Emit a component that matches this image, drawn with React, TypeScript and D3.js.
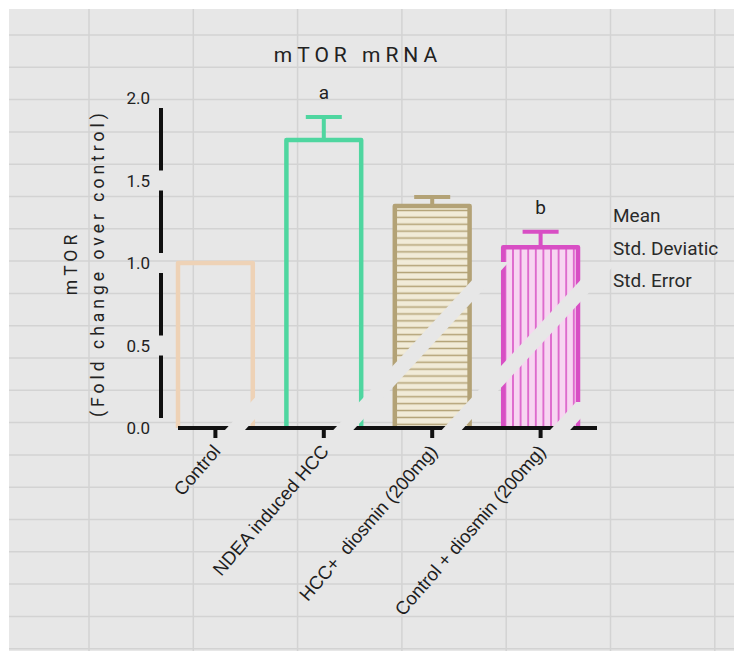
import React, { useEffect, useRef } from 'react';
import * as d3 from 'd3';

// chart data
const categories = ['Control', 'NDEA induced HCC', 'HCC+  diosmin (200mg)', 'Control + diosmin (200mg)'];
const meanValues = [1.0, 1.745, 1.345, 1.095];
const errorValues = [0, 0.14, 0.055, 0.095];
const sigLetters = ['', 'a', '', 'b'];
const yTicks = [0, 0.5, 1.0, 1.5, 2.0];
const legendLabels = ['Mean', 'Std. Deviatic', 'Std. Error'];

const barColors = ['#eed2b6', '#4fd6a0', '#b3a276', '#d84ec4'];
const barFills = ['none', 'none', 'url(#hatchH)', 'url(#hatchV)'];

const App = () => {
  const svgRef = useRef(null);

  useEffect(() => {
    const width = 734;
    const height = 651;
    const bg = '#e7e7e7';

    const svg = d3.select(svgRef.current);
    svg.selectAll('*').remove();

    // photo-like backdrop: white border and a gray grid
    svg.append('rect').attr('width', width).attr('height', height).attr('fill', '#fff');
    svg.append('rect')
      .attr('x', 9).attr('y', 9)
      .attr('width', width - 9).attr('height', height - 9)
      .attr('fill', bg);

    const grid = svg.append('g').attr('stroke', '#d3d3d3').attr('stroke-width', 1.5);
    d3.range(89, width, 104.3).forEach((gx) => {
      grid.append('line').attr('x1', gx).attr('x2', gx).attr('y1', 9).attr('y2', height);
    });
    d3.range(35, height, 32.3).forEach((gy) => {
      grid.append('line').attr('x1', 9).attr('x2', width).attr('y1', gy).attr('y2', gy);
    });

    // patterns for the hatched bars
    const defs = svg.append('defs');
    const pH = defs.append('pattern')
      .attr('id', 'hatchH')
      .attr('patternUnits', 'userSpaceOnUse')
      .attr('width', 10).attr('height', 6.9);
    pH.append('rect').attr('width', 10).attr('height', 6.9).attr('fill', '#f1ebd8');
    pH.append('line')
      .attr('x1', 0).attr('x2', 10).attr('y1', 3.45).attr('y2', 3.45)
      .attr('stroke', '#b3a276').attr('stroke-width', 1.5);

    const pV = defs.append('pattern')
      .attr('id', 'hatchV')
      .attr('patternUnits', 'userSpaceOnUse')
      .attr('width', 7.6).attr('height', 10);
    pV.append('rect').attr('width', 7.6).attr('height', 10).attr('fill', '#f7d5f1');
    pV.append('line')
      .attr('x1', 3.8).attr('x2', 3.8).attr('y1', 0).attr('y2', 10)
      .attr('stroke', '#d84ec4').attr('stroke-width', 1.5);

    // scales
    const x = d3.scaleBand().domain(categories).range([178, 578]).paddingInner(0.31).paddingOuter(0);
    const y = d3.scaleLinear().domain([0, 2]).range([428, 98]);
    const bw = x.bandwidth();

    // bars (open at the bottom, they sit on the axis)
    categories.forEach((c, i) => {
      const x0 = x(c);
      svg.append('path')
        .attr('d', `M${x0},${y(0)}V${y(meanValues[i])}H${x0 + bw}V${y(0)}`)
        .attr('fill', barFills[i])
        .attr('stroke', barColors[i])
        .attr('stroke-width', 4.5)
        .attr('stroke-linejoin', 'round');

      if (errorValues[i] > 0) {
        const cx = x0 + bw / 2;
        const top = y(meanValues[i] + errorValues[i]);
        svg.append('line')
          .attr('x1', cx).attr('x2', cx)
          .attr('y1', y(meanValues[i])).attr('y2', top)
          .attr('stroke', barColors[i]).attr('stroke-width', 4);
        svg.append('line')
          .attr('x1', cx - 18).attr('x2', cx + 18)
          .attr('y1', top).attr('y2', top)
          .attr('stroke', barColors[i]).attr('stroke-width', 4);
      }
    });

    // y axis drawn in pieces between the ticks
    const yAxis = svg.append('g').attr('stroke', '#111').attr('stroke-width', 4);
    for (let k = 0; k < yTicks.length - 1; k++) {
      yAxis.append('line')
        .attr('x1', 161).attr('x2', 161)
        .attr('y1', y(yTicks[k + 1]) + 10)
        .attr('y2', y(yTicks[k]) - 10);
    }
    svg.append('g')
      .selectAll('text')
      .data(yTicks)
      .join('text')
      .attr('x', 150)
      .attr('y', (d) => y(d) + 6)
      .attr('text-anchor', 'end')
      .attr('font-family', 'Roboto')
      .attr('font-size', 17)
      .attr('fill', '#222')
      .text((d) => d3.format('.1f')(d));

    // x axis with ticks
    const xAxis = svg.append('g').attr('stroke', '#111').attr('stroke-width', 4);
    xAxis.append('line')
      .attr('x1', x.range()[0]).attr('x2', x.range()[1] + 19)
      .attr('y1', y(0)).attr('y2', y(0));
    categories.forEach((c) => {
      const cx = x(c) + bw / 2;
      xAxis.append('line')
        .attr('x1', cx).attr('x2', cx)
        .attr('y1', y(0)).attr('y2', y(0) + 10);
    });

    // light diagonal streaks from the photo
    const streakTops = [396, 262, 262, 402];
    const slope = 1.08;
    categories.forEach((c, i) => {
      const ax = x(c) + bw - 16;
      const at = (yy) => ax + (y(0) - yy) / slope;
      const yb = 431;
      const yt = streakTops[i];
      svg.append('polygon')
        .attr('points', [
          [at(yb) - 10, yb], [at(yb) + 10, yb],
          [at(yt) + 10, yt], [at(yt) - 10, yt],
        ].map((p) => p.join(',')).join(' '))
        .attr('fill', bg);
    });

    // category labels
    categories.forEach((c) => {
      const cx = x(c) + bw / 2;
      svg.append('text')
        .attr('transform', `translate(${cx + 6},${y(0) + 24}) rotate(-49)`)
        .attr('text-anchor', 'end')
        .attr('font-family', 'Liberation Sans')
        .attr('font-size', 18.5)
        .attr('fill', '#1e1e1e')
        .style('white-space', 'pre')
        .text(c);
    });

    // significance letters
    categories.forEach((c, i) => {
      if (!sigLetters[i]) return;
      svg.append('text')
        .attr('x', x(c) + bw / 2)
        .attr('y', y(meanValues[i] + errorValues[i]) - 18)
        .attr('text-anchor', 'middle')
        .attr('font-family', 'Roboto')
        .attr('font-size', 19)
        .attr('fill', '#222')
        .text(sigLetters[i]);
    });

    // title
    svg.append('text')
      .attr('x', 358).attr('y', 62)
      .attr('text-anchor', 'middle')
      .attr('font-family', 'Roboto')
      .attr('font-size', 21)
      .attr('letter-spacing', 5)
      .attr('fill', '#222')
      .text('mTOR mRNA');

    // y axis title, two rotated lines
    [['mTOR', 71], ['(Fold change over control)', 98]].forEach(([t, tx]) => {
      svg.append('text')
        .attr('transform', `translate(${tx},${y(1)}) rotate(-90)`)
        .attr('text-anchor', 'middle')
        .attr('dominant-baseline', 'central')
        .attr('font-family', 'Roboto')
        .attr('font-size', 17.5)
        .attr('letter-spacing', 4)
        .attr('fill', '#222')
        .text(t);
    });

    // legend labels on the right
    svg.append('g')
      .selectAll('text')
      .data(legendLabels)
      .join('text')
      .attr('x', 613)
      .attr('y', (d, i) => 222 + i * 32.5)
      .attr('font-family', 'Roboto')
      .attr('font-size', 19)
      .attr('fill', '#2a2a2a')
      .text((d) => d);
  }, []);

  return (
    <svg
      ref={svgRef}
      width={734}
      height={651}
      style={{ position: 'absolute', left: 0, top: 0, display: 'block' }}
    ></svg>
  );
};

export default App;
